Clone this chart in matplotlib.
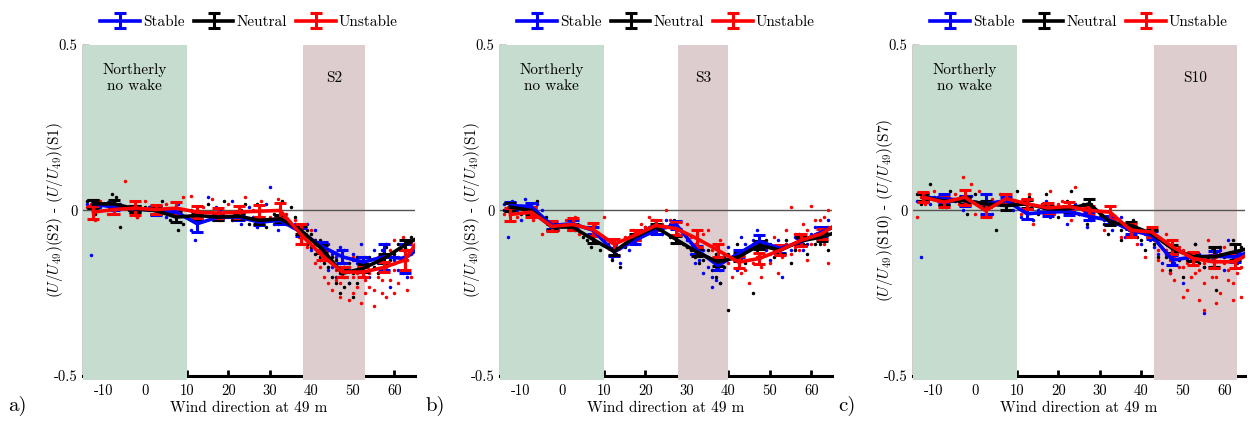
import matplotlib
matplotlib.use('Agg')
from matplotlib import pyplot as plt

plt.rcParams['font.family'] = 'cmr10'
plt.rcParams['mathtext.fontset'] = 'cm'
plt.rcParams['axes.unicode_minus'] = False
plt.rcParams['axes.formatter.use_mathtext'] = True

# bin centres of the averaged curves
bins = [-12.5, -7.5, -2.5, 2.5, 7.5, 12.5, 17.5, 22.5, 27.5, 32.5, 37.5, 42.5, 47.5, 52.5, 57.5, 62.5, 67.5]

# panel a) S2 - S1
blue_a = [0.02, 0.01, 0.005, 0.0, -0.005, -0.04, -0.02, -0.02, -0.035, -0.03, -0.065, -0.108, -0.14, -0.156, -0.14, -0.145, -0.10]
black_a = [0.02, 0.02, 0.005, 0.0, -0.02, -0.015, -0.02, -0.017, -0.03, -0.025, -0.06, -0.115, -0.19, -0.175, -0.145, -0.105, -0.07]
red_a = [-0.005, 0.003, 0.007, 0.003, 0.007, -0.005, -0.008, -0.005, -0.002, 0.0, -0.072, -0.135, -0.186, -0.186, -0.172, -0.15, -0.06]
blue_a_err = [0.012, 0.01, 0.01, 0.015, 0.01, 0.025, 0.01, 0.01, 0.01, 0.01, 0.012, 0.012, 0.02, 0.015, 0.04, 0.045, 0.03]
black_a_err = [0.012, 0.012, 0.01, 0.01, 0.015, 0.01, 0.01, 0.01, 0.01, 0.01, 0.012, 0.012, 0.012, 0.012, 0.015, 0.015, 0.015]
red_a_err = [0.02, 0.015, 0.022, 0.015, 0.02, 0.018, 0.015, 0.018, 0.018, 0.022, 0.03, 0.015, 0.015, 0.015, 0.015, 0.03, 0.02]

# panel b) S3 - S1
blue_b = [0.015, 0.012, -0.045, -0.04, -0.06, -0.125, -0.09, -0.06, -0.043, -0.12, -0.166, -0.13, -0.093, -0.115, -0.095, -0.065, -0.04]
black_b = [0.01, 0.0, -0.05, -0.05, -0.088, -0.124, -0.08, -0.05, -0.088, -0.126, -0.156, -0.14, -0.105, -0.12, -0.092, -0.08, -0.06]
red_b = [-0.012, -0.005, -0.048, -0.042, -0.058, -0.102, -0.075, -0.045, -0.055, -0.085, -0.12, -0.156, -0.145, -0.12, -0.09, -0.07, -0.03]
blue_b_err = [0.012, 0.01, 0.01, 0.01, 0.01, 0.012, 0.012, 0.012, 0.012, 0.012, 0.015, 0.012, 0.02, 0.012, 0.012, 0.015, 0.015]
black_b_err = [0.012, 0.01, 0.01, 0.01, 0.01, 0.01, 0.01, 0.01, 0.01, 0.01, 0.012, 0.012, 0.012, 0.012, 0.012, 0.012, 0.012]
red_b_err = [0.02, 0.015, 0.015, 0.018, 0.02, 0.015, 0.015, 0.015, 0.02, 0.025, 0.02, 0.018, 0.018, 0.015, 0.018, 0.015, 0.015]

# panel c) S10 - S7
blue_c = [0.04, 0.036, 0.03, 0.02, 0.03, -0.01, -0.005, -0.003, -0.018, -0.03, -0.06, -0.075, -0.15, -0.14, -0.138, -0.14, -0.12]
black_c = [0.04, 0.028, 0.03, 0.02, 0.015, 0.02, 0.005, 0.005, 0.02, -0.035, -0.045, -0.07, -0.115, -0.14, -0.14, -0.125, -0.11]
red_c = [0.04, 0.025, 0.04, 0.0, 0.036, 0.02, 0.008, 0.012, 0.0, -0.005, -0.06, -0.065, -0.11, -0.145, -0.155, -0.155, -0.12]
blue_c_err = [0.012, 0.015, 0.015, 0.03, 0.012, 0.015, 0.012, 0.012, 0.012, 0.012, 0.012, 0.012, 0.015, 0.012, 0.015, 0.015, 0.015]
black_c_err = [0.01, 0.01, 0.01, 0.01, 0.012, 0.012, 0.01, 0.01, 0.015, 0.01, 0.01, 0.01, 0.012, 0.012, 0.03, 0.025, 0.02]
red_c_err = [0.015, 0.015, 0.022, 0.02, 0.015, 0.015, 0.015, 0.015, 0.015, 0.02, 0.02, 0.015, 0.02, 0.02, 0.02, 0.02, 0.02]

# individual 10-min samples (wind direction, difference)
pts_blue_a = [(-14, 0.02), (-13, -0.135), (-12, 0.03), (-11, 0.01), (-9, 0.025), (-8, 0.0), (-6, 0.02), (-3, -0.01),
              (1, 0.01), (3, 0.0), (5, -0.02), (8, 0.02), (11, -0.06), (12, -0.09), (13, -0.03), (15, 0.04),
              (17, 0.01), (19, -0.02), (21, 0.03), (23, -0.04), (25, 0.01), (27, -0.05), (29, 0.02), (30, 0.07),
              (32, -0.06), (34, -0.03), (36, -0.04), (38, -0.05), (39, -0.08), (40, -0.12), (41, -0.06), (42, -0.15),
              (43, -0.1), (44, -0.18), (45, -0.13), (46, -0.2), (47, -0.17), (48, -0.12), (49, -0.22), (50, -0.15),
              (52, -0.1), (54, -0.2), (56, -0.16), (57, -0.12), (59, -0.23), (61, -0.18), (62, -0.14), (63, -0.2), (64, -0.1),
              (37, -0.06), (39, -0.04), (40, -0.09), (41, -0.1), (42, -0.12), (43, -0.14), (44, -0.1), (45, -0.17),
              (46, -0.14), (47, -0.11), (48, -0.16), (49, -0.18), (50, -0.13), (51, -0.16), (53, -0.14), (55, -0.12),
              (58, -0.1), (60, -0.15), (18, 0.0), (22, -0.01), (26, -0.02), (31, -0.04)]
pts_black_a = [(-14, 0.03), (-12, -0.01), (-10, 0.02), (-8, 0.05), (-7, 0.04), (-6, -0.05), (-4, 0.0), (-2, -0.02),
               (0, 0.01), (2, -0.01), (4, 0.03), (6, -0.03), (8, -0.06), (9, -0.04), (11, 0.0), (13, -0.03),
               (15, 0.02), (17, -0.02), (19, 0.03), (21, -0.03), (23, 0.0), (25, -0.04), (27, 0.02), (29, -0.05),
               (31, -0.01), (33, 0.03), (34, -0.04), (36, -0.02), (38, -0.05), (39, -0.1), (40, -0.07), (41, -0.13),
               (42, -0.09), (43, -0.16), (44, -0.12), (45, -0.2), (46, -0.15), (47, -0.25), (48, -0.18), (49, -0.22),
               (50, -0.26), (51, -0.14), (53, -0.2), (55, -0.17), (57, -0.13), (59, -0.15), (61, -0.1), (63, -0.12), (64, -0.08),
               (38, -0.08), (39, -0.06), (40, -0.11), (41, -0.09), (42, -0.14), (43, -0.11), (44, -0.17), (45, -0.14),
               (46, -0.22), (47, -0.19), (48, -0.23), (49, -0.16), (50, -0.19), (51, -0.22), (52, -0.17), (54, -0.14),
               (56, -0.19), (58, -0.11), (60, -0.13), (62, -0.15), (20, -0.02), (24, 0.02), (28, -0.03), (32, -0.04), (35, 0.01)]
pts_red_a = [(-14, 0.01), (-13, 0.02), (-12, -0.03), (-11, 0.03), (-9, -0.01), (-7, 0.02), (-5, 0.09), (-4, 0.015),
             (-2, -0.02), (0, 0.03), (1, 0.0), (3, -0.015), (5, 0.02), (7, -0.01), (9, 0.04), (11, 0.045),
             (12, -0.02), (14, 0.01), (16, 0.035), (18, -0.03), (20, 0.02), (22, -0.01), (24, 0.04), (26, 0.0),
             (28, 0.03), (30, -0.02), (32, 0.035), (34, -0.01), (36, -0.03), (37, -0.08), (38, -0.05), (39, -0.11),
             (40, -0.09), (41, -0.16), (42, -0.12), (43, -0.2), (44, -0.15), (45, -0.24), (46, -0.18), (47, -0.22),
             (48, -0.16), (49, -0.27), (50, -0.2), (51, -0.23), (52, -0.17), (53, -0.25), (54, -0.19), (55, -0.24),
             (55, -0.29), (56, -0.14), (57, -0.21), (58, -0.26), (59, -0.12), (60, -0.18), (61, -0.22), (62, -0.08),
             (63, -0.15), (64, -0.1), (64, -0.2),
             (40, -0.06), (41, -0.1), (42, -0.17), (43, -0.13), (44, -0.22), (45, -0.16), (46, -0.21), (47, -0.26),
             (48, -0.2), (49, -0.17), (50, -0.25), (51, -0.19), (52, -0.28), (53, -0.21), (54, -0.15), (56, -0.2),
             (57, -0.25), (58, -0.17), (59, -0.21), (60, -0.25), (61, -0.14), (62, -0.19), (63, -0.24), (64, -0.13),
             (46, -0.13), (50, -0.14), (54, -0.23), (58, -0.1), (60, -0.09), (62, -0.12)]

pts_blue_b = [(-14, 0.02), (-13, -0.08), (-12, 0.03), (-11, 0.0), (-10, -0.03), (-9, 0.035), (-8, 0.01), (-7, -0.01),
              (-6, 0.02), (-5, 0.0), (12, -0.14), (13, -0.1), (14, -0.16), (16, -0.12), (17, -0.08), (19, -0.06),
              (21, -0.05), (22, -0.03), (24, -0.07), (26, -0.04), (28, -0.06), (30, -0.09), (31, -0.13), (32, -0.16),
              (33, -0.11), (34, -0.19), (35, -0.14), (36, -0.2), (37, -0.17), (38, -0.22), (39, -0.15), (40, -0.11),
              (42, -0.18), (43, -0.08), (45, -0.12), (47, -0.06), (48, -0.1), (50, -0.15), (52, -0.09), (53, -0.2),
              (55, -0.12), (57, -0.07), (59, -0.1), (61, -0.05), (63, -0.08), (64, -0.03),
              (33, -0.15), (34, -0.12), (35, -0.17), (36, -0.15), (37, -0.21), (38, -0.18), (39, -0.13), (36, -0.23),
              (41, -0.14), (44, -0.1), (46, -0.09), (49, -0.12), (51, -0.11), (54, -0.1), (56, -0.08), (58, -0.12),
              (60, -0.07), (62, -0.06), (15, -0.1), (18, -0.09), (23, -0.05), (25, -0.03)]
pts_black_b = [(-14, 0.0), (-12, 0.02), (-10, -0.01), (-8, 0.01), (-6, 0.03), (-4, -0.02), (3, -0.06), (5, -0.08),
               (7, -0.11), (8, -0.07), (9, -0.12), (11, -0.1), (12, -0.15), (13, -0.13), (14, -0.17), (16, -0.09),
               (18, -0.07), (20, -0.05), (22, -0.04), (24, -0.06), (26, -0.08), (27, -0.03), (29, -0.1), (31, -0.12),
               (33, -0.09), (34, -0.15), (36, -0.18), (37, -0.13), (38, -0.22), (39, -0.17), (41, -0.14), (42, -0.1),
               (44, -0.16), (46, -0.25), (47, -0.12), (49, -0.09), (51, -0.14), (53, -0.11), (55, -0.16), (57, -0.08),
               (59, -0.13), (61, -0.1), (63, -0.06), (64, -0.12),
               (30, -0.11), (32, -0.14), (33, -0.16), (35, -0.12), (36, -0.15), (37, -0.2), (38, -0.16), (39, -0.14),
               (40, -0.13), (43, -0.15), (45, -0.12), (48, -0.14), (50, -0.1), (52, -0.13), (54, -0.09), (56, -0.12),
               (58, -0.1), (60, -0.08), (62, -0.1), (10, -0.09), (15, -0.11), (6, -0.09), (40, -0.3)]
pts_red_b = [(-14, -0.01), (-13, 0.01), (-11, -0.02), (-9, 0.0), (-7, -0.03), (-5, -0.07), (-3, -0.04), (-1, -0.06),
             (1, -0.03), (3, -0.02), (4, -0.07), (6, -0.05), (8, -0.04), (10, -0.02), (11, -0.09), (13, -0.11),
             (15, -0.08), (17, -0.06), (19, -0.04), (21, -0.02), (23, -0.05), (25, 0.0), (26, -0.03), (28, -0.07),
             (30, -0.04), (32, -0.1), (34, -0.07), (36, -0.12), (38, -0.09), (40, -0.16), (41, -0.2), (43, -0.13),
             (44, -0.18), (45, -0.22), (46, -0.1), (48, -0.17), (50, -0.13), (51, -0.08), (52, -0.19), (54, -0.06),
             (55, 0.01), (56, -0.11), (58, -0.04), (59, -0.15), (60, 0.015), (61, -0.07), (62, -0.03), (63, -0.1),
             (64, -0.05), (64, -0.16),
             (42, -0.15), (43, -0.19), (44, -0.12), (46, -0.16), (47, -0.14), (48, -0.2), (49, -0.11), (50, -0.16),
             (51, -0.12), (53, -0.14), (54, -0.1), (55, -0.13), (56, -0.07), (57, -0.12), (58, -0.09), (59, -0.06),
             (60, -0.1), (61, -0.03), (62, -0.08), (63, -0.02), (64, 0.0), (37, -0.11), (39, -0.13), (35, -0.06),
             (31, -0.08), (27, -0.05), (24, -0.04), (20, -0.05)]

pts_blue_c = [(-14, 0.03), (-13, -0.14), (-12, 0.05), (-11, 0.02), (-9, 0.04), (-7, 0.01), (-5, 0.03), (-3, 0.0),
              (-1, 0.045), (1, 0.02), (4, -0.01), (6, 0.03), (9, 0.0), (11, -0.02), (12, 0.02), (14, -0.03),
              (15, 0.0), (17, 0.03), (18, -0.02), (20, 0.01), (22, -0.04), (24, 0.02), (25, -0.01), (27, -0.05),
              (29, 0.0), (31, -0.03), (33, -0.06), (35, -0.02), (36, -0.08), (38, -0.05), (40, -0.1), (41, -0.07),
              (43, -0.11), (45, -0.16), (46, -0.13), (47, -0.19), (49, -0.12), (50, -0.22), (52, -0.15), (53, -0.1),
              (55, -0.17), (55, -0.31), (58, -0.13), (60, -0.18), (61, -0.09), (63, -0.14), (64, -0.12),
              (42, -0.09), (44, -0.13), (48, -0.16), (51, -0.14), (54, -0.13), (57, -0.15), (59, -0.12), (62, -0.14),
              (37, -0.06), (34, -0.04), (28, -0.02), (23, 0.0), (19, 0.0)]
pts_black_c = [(-14, 0.05), (-13, 0.02), (-11, 0.08), (-10, 0.04), (-8, 0.01), (-6, 0.06), (-4, 0.03), (-2, -0.01),
               (0, 0.05), (2, 0.02), (5, -0.06), (7, 0.04), (9, 0.03), (10, 0.06), (12, 0.0), (13, 0.04),
               (15, -0.01), (17, 0.05), (18, 0.01), (20, -0.02), (22, 0.03), (23, 0.06), (25, -0.01), (27, -0.04),
               (28, 0.02), (30, -0.02), (32, -0.07), (33, -0.03), (35, -0.09), (36, -0.05), (38, -0.03), (39, -0.08),
               (41, -0.12), (42, -0.06), (44, -0.14), (45, -0.09), (47, -0.18), (48, -0.12), (50, -0.2), (51, -0.15),
               (53, -0.1), (55, -0.17), (57, -0.12), (58, -0.24), (60, -0.14), (62, -0.09), (63, -0.16), (64, -0.11),
               (40, -0.09), (43, -0.1), (46, -0.14), (49, -0.15), (52, -0.13), (54, -0.16), (56, -0.14), (59, -0.11),
               (61, -0.13), (35, -0.06), (31, -0.04), (26, 0.02), (21, 0.01), (16, 0.02)]
pts_red_c = [(-14, -0.02), (-13, 0.04), (-12, 0.02), (-10, 0.06), (-9, 0.03), (-7, 0.01), (-5, 0.05), (-4, 0.02),
             (-3, 0.1), (-1, 0.08), (0, -0.01), (1, 0.06), (3, -0.02), (4, 0.035), (6, 0.05), (8, 0.02),
             (10, 0.03), (11, -0.01), (13, 0.05), (14, -0.04), (16, 0.02), (18, 0.06), (19, -0.01), (21, 0.03),
             (23, -0.03), (24, 0.07), (26, 0.0), (28, -0.03), (30, -0.01), (31, -0.06), (33, -0.02), (35, -0.08),
             (37, -0.04), (39, -0.1), (40, -0.06), (41, -0.14), (43, -0.09), (44, -0.12), (45, -0.18), (46, -0.07),
             (47, -0.15), (48, -0.21), (49, -0.11), (50, -0.17), (51, -0.24), (52, -0.13), (53, -0.19), (54, -0.27),
             (55, -0.16), (56, -0.09), (57, -0.2), (58, -0.14), (59, -0.25), (60, -0.11), (61, -0.18), (62, -0.22),
             (63, -0.13), (64, -0.17), (64, -0.26),
             (42, -0.08), (44, -0.15), (46, -0.12), (47, -0.19), (48, -0.14), (49, -0.17), (50, -0.12), (51, -0.16),
             (52, -0.2), (53, -0.14), (54, -0.18), (55, -0.22), (56, -0.15), (57, -0.17), (58, -0.2), (59, -0.13),
             (60, -0.16), (61, -0.21), (62, -0.15), (63, -0.19), (64, -0.14), (55, -0.3), (58, -0.28), (62, -0.27),
             (50, -0.26), (20, 0.02), (25, 0.01), (29, -0.02), (34, -0.04), (38, -0.06)]

panels = [
    ('a)', 'S2', 'S1', (38, 53), [(pts_blue_a, blue_a, blue_a_err), (pts_black_a, black_a, black_a_err), (pts_red_a, red_a, red_a_err)]),
    ('b)', 'S3', 'S1', (28, 40), [(pts_blue_b, blue_b, blue_b_err), (pts_black_b, black_b, black_b_err), (pts_red_b, red_b, red_b_err)]),
    ('c)', 'S10', 'S7', (43, 63), [(pts_blue_c, blue_c, blue_c_err), (pts_black_c, black_c, black_c_err), (pts_red_c, red_c, red_c_err)]),
]
colors = ['#0000ff', '#000000', '#ff0000']
names = ['Stable', 'Neutral', 'Unstable']

fig = plt.figure(figsize=(12.5, 4.21), dpi=100)
lefts = [0.0664, 0.4, 0.7304]

for k, (tag, site, ref, wake, series) in enumerate(panels):
    ax = fig.add_axes([lefts[k], 0.107, 0.2656, 0.786])
    ax.set_xlim(-15, 65)
    ax.set_ylim(-0.5, 0.5)

    ax.axvspan(-15, 10, ymin=-0.012, ymax=1, color='#c6dccf', zorder=3, clip_on=False, lw=0)
    ax.axvspan(wake[0], wake[1], ymin=-0.012, ymax=1, color='#decdce', zorder=3, clip_on=False, lw=0)
    ax.axhline(0, color='#555555', lw=1, zorder=3.5)
    ax.text(-2.5, 0.4, 'Northerly\nno wake', ha='center', va='center', fontsize=11, zorder=6, linespacing=1.25)
    ax.text((wake[0] + wake[1]) / 2, 0.4, site, ha='center', va='center', fontsize=11, zorder=6)

    handles = []
    for (pts, mean, err), c, nm in zip(series, colors, names):
        px = [p[0] for p in pts]
        py = [p[1] for p in pts]
        ax.plot(px, py, '.', color=c, ms=3, zorder=4)
    for (pts, mean, err), c, nm in zip(series, colors, names):
        h = ax.errorbar(bins, mean, yerr=err, color=c, lw=2.6, capsize=4, capthick=2.2,
                        elinewidth=2.2, zorder=5, label=nm)
        handles.append(h)

    for s in ['top', 'right']:
        ax.spines[s].set_visible(False)
    ax.spines['bottom'].set_linewidth(2.2)
    ax.spines['left'].set_linewidth(1)
    ax.set_xticks([-10, 0, 10, 20, 30, 40, 50, 60])
    ax.set_xticklabels(['-10', '0', '10', '20', '30', '40', '50', '60'])
    ax.set_yticks([-0.5, 0, 0.5])
    ax.set_yticklabels(['-0.5', '0', '0.5'])
    ax.tick_params(axis='x', direction='in', length=4, width=2, labelsize=10.5, pad=6)
    ax.tick_params(axis='y', direction='in', length=4, width=1, labelsize=10.5, pad=4)
    ax.set_xlabel('Wind direction at 49 m', fontsize=11, labelpad=2)
    ax.set_ylabel(r'$(U/U_{49})$(' + site + r') - $(U/U_{49})$(' + ref + ')', fontsize=11)
    ax.yaxis.set_label_coords(-0.055, 0.5)

    ax.legend(handles=handles, loc='lower center', bbox_to_anchor=(0.5, 1.03), ncol=3, frameon=False,
              fontsize=11, handlelength=2.6, handletextpad=0.2, columnspacing=0.6, borderaxespad=0)
    fig.text(lefts[k] - 0.06, 0.025, tag, fontsize=15)

fig.savefig('out.png', dpi=100)
